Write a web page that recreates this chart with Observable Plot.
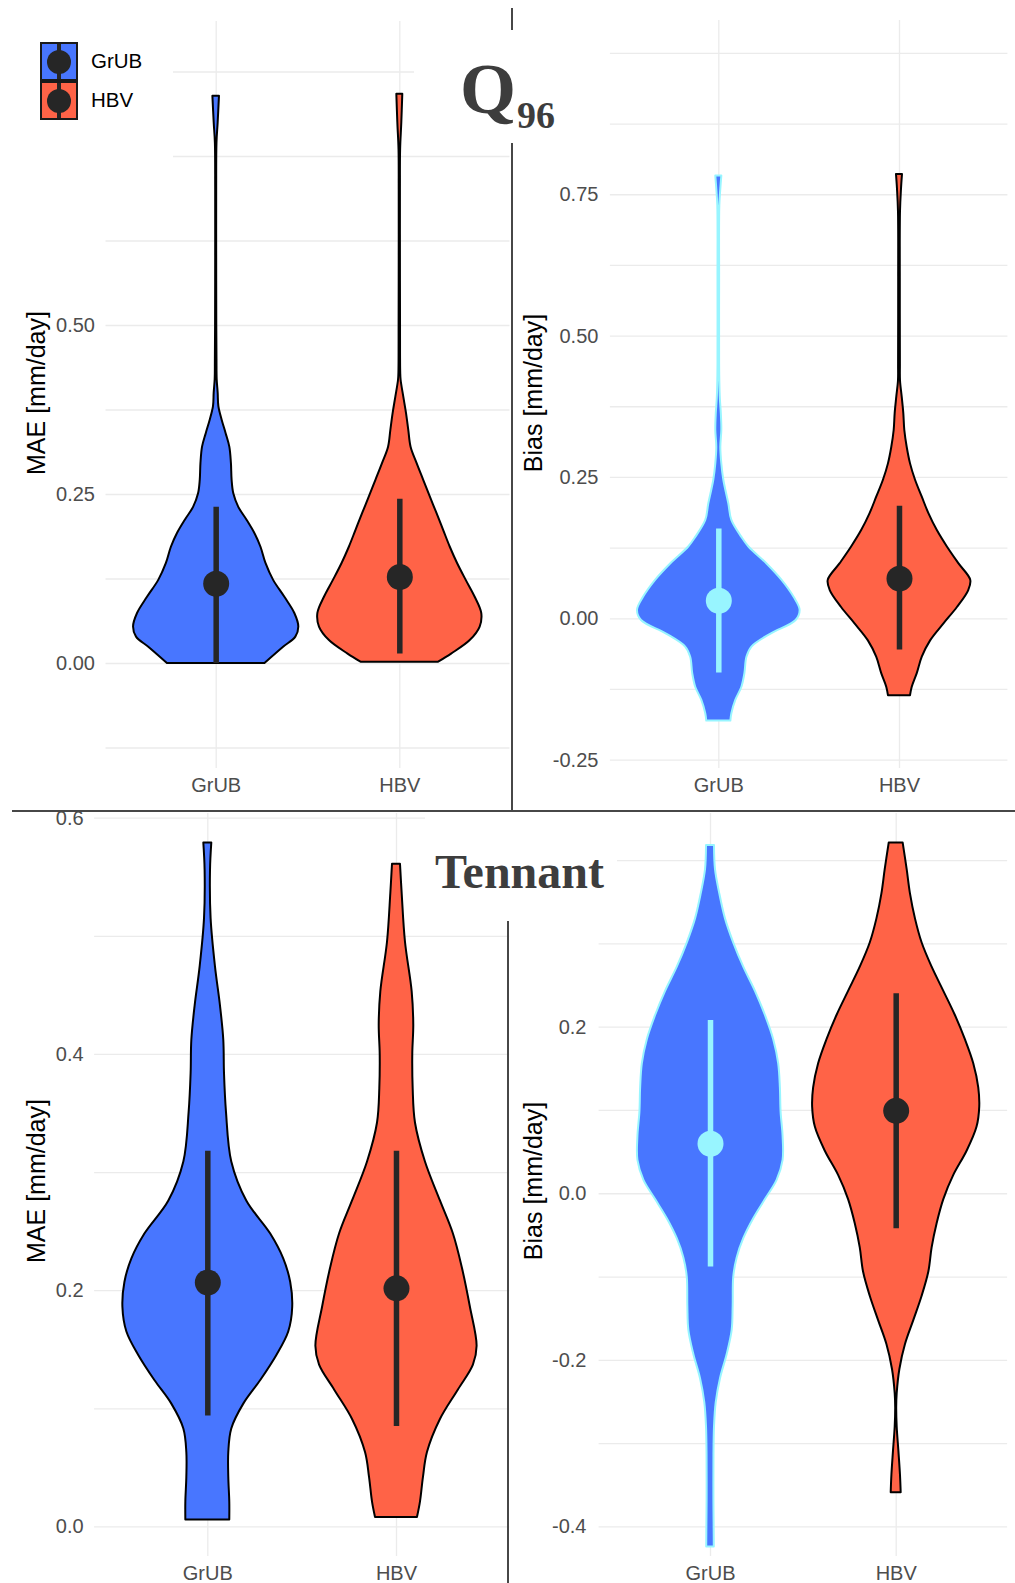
<!DOCTYPE html>
<html><head><meta charset="utf-8">
<script src="https://cdn.jsdelivr.net/npm/d3@7"></script>
<script src="https://cdn.jsdelivr.net/npm/@observablehq/plot@0.6"></script>
<style>
body{margin:0;background:#fff;}
#fig{position:relative;width:1015px;height:1583px;overflow:hidden;background:#fff;font-family:'Liberation Sans',Arial,sans-serif;}
.ytitle{position:absolute;transform:translate(-50%,-50%) rotate(-90deg);white-space:nowrap;font-size:25px;line-height:1;color:#000;}
.mask{position:absolute;background:#fff;}
.rule{position:absolute;background:#474747;}
.ttl{position:absolute;font-family:'Liberation Serif','DejaVu Serif',serif;font-weight:bold;line-height:1;color:#3d3d3d;white-space:nowrap;}
.key{position:absolute;box-sizing:border-box;border:2px solid #1a1a1a;width:38px;height:39px;}
.keyline{position:absolute;left:15px;top:0;width:4px;height:35px;background:#262626;}
.keydot{position:absolute;left:5px;top:5.5px;width:24px;height:24px;border-radius:50%;background:#262626;}
.ktxt{position:absolute;font-size:20.5px;line-height:1;color:#000;}
</style></head><body><div id="fig"></div>
<script>
// ---------- data ----------
const models = ["GrUB", "HBV"];

// Q96 – MAE  (violin profile: level, relative density)
const q96MaeGrubY = [0.839,0.80,0.77,0.70,0.60,0.50,0.45,0.42,0.40,0.38,0.36,0.34,0.32,0.296,0.271,0.251,0.231,0.212,0.192,0.172,0.148,0.123,0.098,0.074,0.054,0.039,0.024,0.0];
const q96MaeGrubD = [3.3,2,0.8,0.5,0.5,0.6,0.8,1,2,2.7,6,10,13.7,15.3,16,17.7,22.7,31,39,45,50,57.7,69,79,83,80,67.7,49];
const q96MaeHbvY  = [0.842,0.80,0.76,0.70,0.60,0.50,0.43,0.419,0.394,0.37,0.345,0.32,0.296,0.271,0.246,0.222,0.197,0.172,0.148,0.123,0.098,0.074,0.054,0.034,0.014,0.002];
const q96MaeHbvD  = [3,2,0.8,0.6,0.6,0.7,0.9,1.3,4,6.7,9,11.3,17.3,24,30.7,37.3,44,50.7,58,66.7,75.7,82.3,80.7,70.7,52,39];
const q96MaeLow = [0.0, 0.014], q96MaeMid = [0.118, 0.128], q96MaeHigh = [0.231, 0.243];
const q96MaeTicks = [0, 0.25, 0.5, 0.75];
const q96MaeGrid = [-0.125,0,0.125,0.25,0.375,0.5,0.625,0.75,0.875];

// Q96 – Bias
const q96BiasGrubY = [0.783,0.76,0.73,0.6,0.45,0.421,0.39,0.363,0.333,0.303,0.274,0.245,0.203,0.174,0.144,0.127,0.097,0.068,0.038,0.015,-0.003,-0.027,-0.05,-0.068,-0.097,-0.121,-0.144,-0.168,-0.181];
const q96BiasGrubD = [3,2,1,0.8,0.8,1,1.5,2.5,3,2,3,5,10,13,23,30,48,63,75,81,77,52,33,28,26,23,17,13,12];
const q96BiasHbvY  = [0.786,0.76,0.72,0.6,0.45,0.421,0.392,0.363,0.333,0.303,0.274,0.245,0.215,0.186,0.156,0.127,0.097,0.068,0.05,0.02,-0.009,-0.039,-0.068,-0.097,-0.121,-0.136];
const q96BiasHbvD  = [3,2,1,0.8,0.9,1,2.7,4.3,5.3,7.7,11,16,22.7,29.3,37.7,47.7,59.3,71,69,57.7,44.3,31,22.7,17.7,12.7,11];
const q96BiasLow = [-0.096, -0.055], q96BiasMid = [0.032, 0.071], q96BiasHigh = [0.159, 0.199];
const q96BiasTicks = [-0.25, 0, 0.25, 0.5, 0.75];
const q96BiasGrid = [-0.25,-0.125,0,0.125,0.25,0.375,0.5,0.625,0.75,0.875,1.0];

// Tennant – MAE
const tenMaeGrubY = [0.579,0.556,0.515,0.474,0.441,0.412,0.384,0.351,0.309,0.276,0.248,0.227,0.207,0.186,0.165,0.145,0.124,0.104,0.083,0.063,0.042,0.021,0.006];
const tenMaeGrubD = [4,2.7,3.3,7.7,12.7,16,16.7,18.7,24,39,63,76,83,85,81,69,53,36,24,21,21,22,22];
const tenMaeHbvY  = [0.561,0.536,0.495,0.453,0.425,0.40,0.371,0.342,0.309,0.276,0.248,0.219,0.186,0.153,0.137,0.116,0.091,0.063,0.042,0.021,0.008];
const tenMaeHbvD  = [4,5.7,9,15.7,17.3,16.3,16.7,19,29,44,57,66,74,80.7,77,62,44,31,27,24,21];
const tenMaeLow = [0.094, 0.085], tenMaeMid = [0.207, 0.202], tenMaeHigh = [0.318, 0.318];
const tenMaeTicks = [0, 0.2, 0.4, 0.6];
const tenMaeGrid = [0,0.1,0.2,0.3,0.4,0.5,0.6];

// Tennant – Bias
const tenBiasGrubY = [0.418,0.389,0.36,0.33,0.301,0.272,0.243,0.214,0.185,0.156,0.127,0.098,0.069,0.04,0.016,-0.007,-0.03,-0.054,-0.077,-0.1,-0.135,-0.164,-0.193,-0.222,-0.251,-0.28,-0.309,-0.338,-0.367,-0.395,-0.424];
const tenBiasGrubD = [4,5,9.3,15,23.3,33.3,45,55,63.3,68.3,70,70.7,72.7,72.7,66.7,55,43.3,33.3,26.7,23.3,22.7,21.7,16.7,10,5.7,4,3.5,3.4,3.4,3.6,3.8];
const tenBiasHbvY  = [0.421,0.389,0.36,0.33,0.301,0.272,0.243,0.214,0.185,0.156,0.127,0.104,0.08,0.051,0.022,-0.007,-0.036,-0.065,-0.094,-0.123,-0.152,-0.181,-0.211,-0.24,-0.257,-0.28,-0.309,-0.338,-0.359];
const tenBiasHbvD  = [7,11,14.3,19.3,26,36,47.7,59.3,69.3,77.7,82.7,83.7,81,71,57.7,47.7,41,36,32.7,26,17.7,9.3,3.7,1,0.5,1,2.7,4.3,5];
const tenBiasLow = [-0.088, -0.042], tenBiasMid = [0.06, 0.0995], tenBiasHigh = [0.208, 0.24];
const tenBiasTicks = [-0.4, -0.2, 0, 0.2];
const tenBiasGrid = [-0.4,-0.3,-0.2,-0.1,0,0.1,0.2,0.3,0.4];

// ---------- styles ----------
const BLUE = "#4876FF", RED = "#FF6347", DARK = "#262626", CYAN = "#98F5FF", GRID = "#ebebeb";
const fig = document.getElementById("fig");
const add = html => fig.insertAdjacentHTML("beforeend", html);

function panel(c) {
  const k = 0.45 / d3.max([...c.gD, ...c.hD]);
  const shape = (ctr, ys, ds) => ys.map((y, i) => ({y, x1: ctr - ds[i] * k, x2: ctr + ds[i] * k}));
  const rng = i => [{x: i + 1, lo: c.lo[i], mid: c.mid[i], hi: c.hi[i]}];
  const gCol = c.bias ? CYAN : DARK;
  const gLine = c.bias ? CYAN : "#000";
  const svg = Plot.plot({
    width: c.w, height: c.h,
    marginLeft: c.ml, marginRight: c.mr, marginTop: c.mt, marginBottom: c.mb,
    x: {type: "linear", domain: [0.4, 2.6]},
    y: {type: "linear", domain: c.dom},
    style: {fontFamily: "'Liberation Sans', Arial, sans-serif", fontSize: "20px", color: "#4d4d4d", background: "white", overflow: "visible"},
    marks: [
      Plot.ruleY(c.grid, {stroke: GRID, strokeWidth: 1.3}),
      Plot.ruleX([1, 2], {stroke: GRID, strokeWidth: 1.3}),
      Plot.areaX(shape(1, c.gY, c.gD), {y: "y", x1: "x1", x2: "x2", fill: BLUE, stroke: gLine, strokeWidth: 2, strokeLinejoin: "round", curve: "catmull-rom"}),
      Plot.areaX(shape(2, c.hY, c.hD), {y: "y", x1: "x1", x2: "x2", fill: RED, stroke: "#000", strokeWidth: 2, strokeLinejoin: "round", curve: "catmull-rom"}),
      Plot.ruleX(rng(0), {x: "x", y1: "lo", y2: "hi", stroke: gCol, strokeWidth: 5.5}),
      Plot.ruleX(rng(1), {x: "x", y1: "lo", y2: "hi", stroke: DARK, strokeWidth: 5.5}),
      Plot.dot(rng(0), {x: "x", y: "mid", r: 13, fill: gCol, stroke: null}),
      Plot.dot(rng(1), {x: "x", y: "mid", r: 13, fill: DARK, stroke: null}),
      Plot.axisX({ticks: [1, 2], tickFormat: d => models[d - 1], tickSize: 0, tickPadding: 9, fontSize: 20}),
      Plot.axisY({ticks: c.ticks, tickFormat: d => d.toFixed(c.digits), tickSize: 0, tickPadding: c.tp, fontSize: 20})
    ]
  });
  svg.style.position = "absolute";
  svg.style.left = c.left + "px";
  svg.style.top = c.top + "px";
  fig.appendChild(svg);
}

panel({left: 0, top: 0, w: 512, h: 811, ml: 105.5, mr: 2.5, mt: 21, mb: 43, dom: [-0.1553, 0.9497],
  gY: q96MaeGrubY, gD: q96MaeGrubD, hY: q96MaeHbvY, hD: q96MaeHbvD,
  lo: q96MaeLow, mid: q96MaeMid, hi: q96MaeHigh, ticks: q96MaeTicks, grid: q96MaeGrid, digits: 2, tp: 11, bias: false});
panel({left: 512, top: 0, w: 503, h: 811, ml: 97.9, mr: 7.6, mt: 20, mb: 43, dom: [-0.2648, 1.0582],
  gY: q96BiasGrubY, gD: q96BiasGrubD, hY: q96BiasHbvY, hD: q96BiasHbvD,
  lo: q96BiasLow, mid: q96BiasMid, hi: q96BiasHigh, ticks: q96BiasTicks, grid: q96BiasGrid, digits: 2, tp: 12, bias: true});
panel({left: 0, top: 811, w: 510, h: 772, ml: 94.1, mr: 0.8, mt: 2, mb: 27, dom: [-0.025, 0.604],
  gY: tenMaeGrubY, gD: tenMaeGrubD, hY: tenMaeHbvY, hD: tenMaeHbvD,
  lo: tenMaeLow, mid: tenMaeMid, hi: tenMaeHigh, ticks: tenMaeTicks, grid: tenMaeGrid, digits: 1, tp: 11, bias: false});
panel({left: 510, top: 811, w: 505, h: 772, ml: 88.6, mr: 7.9, mt: 2, mb: 27, dom: [-0.4355, 0.4565],
  gY: tenBiasGrubY, gD: tenBiasGrubD, hY: tenBiasHbvY, hD: tenBiasHbvD,
  lo: tenBiasLow, mid: tenBiasMid, hi: tenBiasHigh, ticks: tenBiasTicks, grid: tenBiasGrid, digits: 1, tp: 12.6, bias: true});

// axis titles
add('<div class="ytitle" style="left:36px;top:393px">MAE [mm/day]</div>');
add('<div class="ytitle" style="left:533px;top:393px">Bias [mm/day]</div>');
add('<div class="ytitle" style="left:36px;top:1181px">MAE [mm/day]</div>');
add('<div class="ytitle" style="left:533px;top:1181px">Bias [mm/day]</div>');

// white boxes of the composed layout (legend and titles)
add('<div class="mask" style="left:0;top:0;width:173px;height:170px"></div>');
add('<div class="mask" style="left:414px;top:30px;width:188px;height:113px"></div>');
add('<div class="mask" style="left:425px;top:812.5px;width:192px;height:108.5px"></div>');

// dividers
add('<div class="rule" style="left:511.3px;top:8px;width:1.5px;height:22px"></div>');
add('<div class="rule" style="left:511.3px;top:143px;width:1.5px;height:668px"></div>');
add('<div class="rule" style="left:12px;top:810.3px;width:1003px;height:1.5px"></div>');
add('<div class="rule" style="left:507.3px;top:921px;width:1.5px;height:662px"></div>');

// titles
add('<div class="ttl" style="left:460px;top:52.7px;font-size:72px">Q</div>');
add('<div class="ttl" style="left:517px;top:95.5px;font-size:38px">96</div>');
add('<div class="ttl" style="left:435px;top:848px;font-size:48px">Tennant</div>');

// legend
models.forEach((m, i) => {
  const top = 42 + i * 39;
  add(`<div class="key" style="left:39.5px;top:${top}px;background:${i ? RED : BLUE}"><div class="keyline"></div><div class="keydot"></div></div>`);
  add(`<div class="ktxt" style="left:91px;top:${top + 19 - 10.25}px">${m}</div>`);
});
</script>
</body></html>
